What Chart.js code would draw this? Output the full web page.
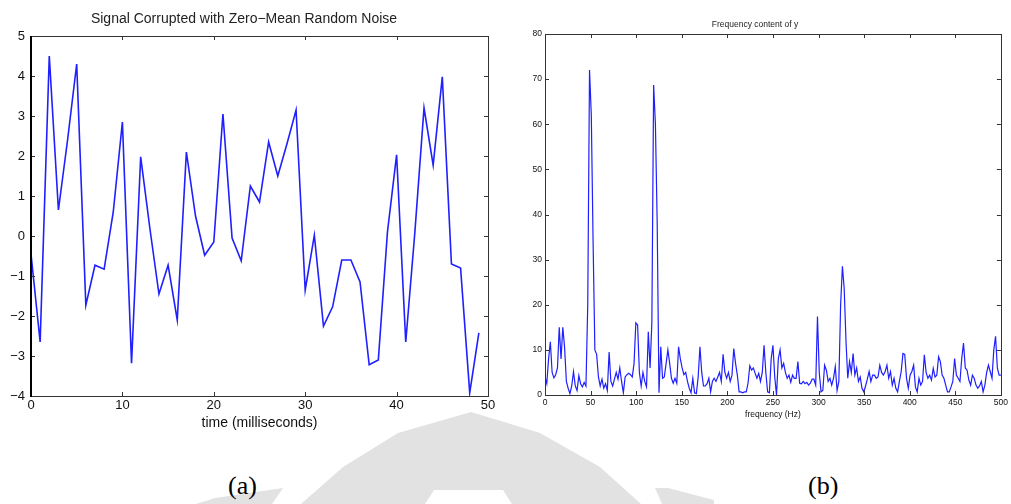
<!DOCTYPE html>
<html>
<head>
<meta charset="utf-8">
<script src="https://cdn.jsdelivr.net/npm/chart.js@4.4.1/dist/chart.umd.min.js"></script>
<style>
  body { margin: 0; background: #fff; width: 1011px; height: 504px; overflow: hidden; position: relative; }
  canvas { position: absolute; top: 0; }
  #fondo { position: absolute; left: 0; top: 0; }
  #graficoSenal { left: 0; }
  #graficoFrec { left: 505px; }
  .etiqueta { position: absolute; top: 471px; font: 26px "Liberation Serif", "Times New Roman", serif; color: #000; line-height: 30px; }
</style>
</head>
<body>
<!-- marca de agua gris del fondo -->
<svg id="fondo" width="1011" height="504">
  <g fill="#e2e2e2">
    <polygon points="471,412 398,433 343,467 301,504 425,504 434,490 503,490 512,504 641,504 600,467 540,433"/>
    <polygon points="196,504 215,498 283,488 272,504"/>
    <polygon points="655,488 668,488 714,500 714,504 662,504"/>
  </g>
</svg>
<canvas id="graficoSenal" width="505" height="440"></canvas>
<canvas id="graficoFrec" width="506" height="440"></canvas>
<div class="etiqueta" style="left:228px">(a)</div>
<div class="etiqueta" style="left:808px">(b)</div>

<script>
// Datos (a): primeros 50 ms de la senal con ruido
const tiempo = [0, 1, 2, 3, 4, 5, 6, 7, 8, 9, 10, 11, 12, 13, 14, 15, 16, 17, 18, 19,
  20, 21, 22, 23, 24, 25, 26, 27, 28, 29, 30, 31, 32, 33, 34, 35, 36, 37, 38, 39,
  40, 41, 42, 43, 44, 45, 46, 47, 48, 49];
const senal = [-0.45, -2.65, 4.5, 0.65, 2.4, 4.3, -1.73, -0.73, -0.83, 0.6,
  2.85, -3.18, 1.98, 0.2, -1.45, -0.73, -2.1, 2.1, 0.5, -0.48,
  -0.15, 3.05, -0.05, -0.62, 1.25, 0.85, 2.35, 1.5, 2.3, 3.15,
  -1.35, 0.02, -2.25, -1.77, -0.6, -0.6, -1.15, -3.22, -3.1, 0.1,
  2.03, -2.65, 0.1, 3.2, 1.77, 3.98, -0.7, -0.8, -3.92, -2.42];
const ticksTiempo = [0, 10, 20, 30, 40, 50];
const ticksSenal = [-4, -3, -2, -1, 0, 1, 2, 3, 4, 5];

// Datos de la figura (b): espectro, fft de 512 puntos -> 257 bins de 0 a 500 Hz
const pasoFrec = 1000 / 512;
const potencia = [
  4, 2.5, 8, 11.8, 5, 3.8, 4.5, 6, 15, 8,
  15, 10.5, 3, 1.5, 0.3, 2, 5.2, 2, 1, 4.3,
  2.5, 1.8, 2.8, 2, 20, 72, 62, 34, 10, 9,
  4, 2, 3.5, 1.5, 2.5, 1, 9.5, 3, 2, 3.5,
  5, 3.5, 6, 3, 0.5, 4, 4.5, 4.8, 4.5, 4,
  7, 16, 15.5, 5, 2, 5, 3, 1.8, 14, 6,
  16, 68.7, 60, 38, 0.5, 10.7, 3.7, 4, 7, 10,
  7, 3.7, 2.6, 3.7, 2.6, 10.7, 8, 6, 4.5, 5,
  3, 1.5, 0.5, 3.7, 0.5, 0.3, 4, 10.7, 5, 2,
  2, 2.5, 3.7, 0.7, 3, 3.7, 3, 4, 5, 3,
  9, 5, 3.7, 5, 3, 4.4, 10.3, 7, 4.4, 0.7,
  0.7, 0.5, 0.7, 0.7, 2.6, 6.5, 5.5, 6, 4.8, 3.7,
  4.8, 3, 5, 11, 5, 0.7, 0.5, 8, 11, 4,
  0, 8, 10, 6, 7, 5, 3.7, 4.4, 2.8, 4.4,
  3.7, 3.7, 7.4, 2.6, 2.5, 3, 2.5, 2.8, 2.2, 2.6,
  3.5, 3.5, 2.2, 17.4, 5, 0.7, 1, 6.6, 5.5, 3,
  3.7, 2.2, 3.7, 6.3, 1, 3, 20, 28.5, 23.6, 12,
  3.7, 7.4, 5, 9.2, 4.4, 6, 3, 4, 1.5, 0.7,
  2, 3.5, 5.2, 3, 4.4, 4.4, 3.7, 4, 6.6, 5,
  4.4, 5.2, 6.6, 3.7, 5.2, 2.2, 3.7, 1.5, 0.7, 3,
  5.2, 9.2, 9, 3.7, 1.5, 4.4, 5.2, 6.6, 1.8, 0.7,
  3.7, 2.2, 3, 8.9, 5, 3.7, 4.4, 3.3, 5.9, 4,
  4.4, 8.5, 7.4, 4.4, 3.7, 2.2, 0.7, 0.7, 1.8, 3,
  8.1, 4.4, 3.7, 3, 8.1, 11.5, 6, 5.5, 3.3, 2.2,
  4.4, 3.7, 2.2, 1.5, 2, 3, 0.7, 2.2, 5, 6.6,
  5.2, 3.7, 10, 13, 6, 4.4, 4.4
];
const ticksFrec = [0, 50, 100, 150, 200, 250, 300, 350, 400, 450, 500];
const ticksPotencia = [0, 10, 20, 30, 40, 50, 60, 70, 80];

const fuente = '"Liberation Sans", Arial, Helvetica, sans-serif';
const azul = '#1f1fff';

// Caja estilo matlab: borde en los 4 lados y ticks hacia adentro
const cajaMatlab = {
  id: 'cajaMatlab',
  afterDatasetsDraw(chart, args, opts) {
    const { ctx, chartArea: a, scales } = chart;
    const largo = opts.largo || 4;
    ctx.save();
    ctx.strokeStyle = opts.color || '#222';
    ctx.lineWidth = 1;
    ctx.beginPath();
    scales.x.ticks.forEach(t => {
      const px = Math.round(scales.x.getPixelForValue(t.value)) + 0.5;
      ctx.moveTo(px, a.bottom); ctx.lineTo(px, a.bottom - largo);
      ctx.moveTo(px, a.top); ctx.lineTo(px, a.top + largo);
    });
    scales.y.ticks.forEach(t => {
      const py = Math.round(scales.y.getPixelForValue(t.value)) + 0.5;
      ctx.moveTo(a.left, py); ctx.lineTo(a.left + largo, py);
      ctx.moveTo(a.right, py); ctx.lineTo(a.right - largo, py);
    });
    ctx.stroke();
    ctx.strokeRect(Math.round(a.left) + 0.5, Math.round(a.top) + 0.5,
      Math.round(a.right - a.left), Math.round(a.bottom - a.top));
    if (opts.bordeIzq) {
      ctx.lineWidth = opts.bordeIzq;
      ctx.strokeStyle = '#000';
      ctx.beginPath();
      ctx.moveTo(Math.round(a.left), a.top);
      ctx.lineTo(Math.round(a.left), a.bottom + 1);
      ctx.stroke();
    }
    ctx.restore();
  }
};

const menos = v => String(v).replace('-', '\u2212');

// Grafico (a): senal en el tiempo
new Chart(document.getElementById('graficoSenal').getContext('2d'), {
  type: 'line',
  data: {
    datasets: [{
      data: tiempo.map((t, i) => ({ x: t, y: senal[i] })),
      borderColor: azul,
      borderWidth: 1.6,
      pointRadius: 0,
      tension: 0
    }]
  },
  options: {
    responsive: false,
    animation: false,
    devicePixelRatio: 1,
    events: [],
    layout: { padding: { left: 0, right: 17, top: 0, bottom: 8 } },
    plugins: {
      legend: { display: false },
      tooltip: { enabled: false },
      title: {
        display: true,
        text: 'Signal Corrupted with Zero\u2212Mean Random Noise',
        color: '#222',
        font: { family: fuente, size: 14, weight: 'normal', lineHeight: 1.2 },
        padding: { top: 10.4, bottom: 8.8 }
      },
      cajaMatlab: { largo: 4, color: '#333', bordeIzq: 2 }
    },
    scales: {
      x: {
        type: 'linear', min: 0, max: 50,
        afterBuildTicks: s => { s.ticks = ticksTiempo.map(v => ({ value: v })); },
        afterFit: s => { s.height = 36; },
        ticks: { color: '#111', font: { family: fuente, size: 13 }, padding: 2, maxRotation: 0 },
        grid: { display: false, drawTicks: false },
        border: { display: false },
        title: { display: true, text: 'time (milliseconds)', color: '#111', font: { family: fuente, size: 14 }, padding: { top: 0, bottom: 0 } }
      },
      y: {
        type: 'linear', min: -4, max: 5,
        afterBuildTicks: s => { s.ticks = ticksSenal.map(v => ({ value: v })); },
        afterFit: s => { s.width = 31; },
        ticks: { color: '#111', font: { family: fuente, size: 13 }, padding: 6, callback: menos },
        grid: { display: false, drawTicks: false },
        border: { display: false }
      }
    }
  },
  plugins: [cajaMatlab]
});

// Grafico (b): contenido en frecuencia
new Chart(document.getElementById('graficoFrec').getContext('2d'), {
  type: 'line',
  data: {
    datasets: [{
      data: potencia.map((p, k) => ({ x: k * pasoFrec, y: p })),
      borderColor: azul,
      borderWidth: 1.2,
      pointRadius: 0,
      tension: 0
    }]
  },
  options: {
    responsive: false,
    animation: false,
    devicePixelRatio: 1,
    events: [],
    layout: { padding: { left: 0, right: 6, top: 0, bottom: 20 } },
    plugins: {
      legend: { display: false },
      tooltip: { enabled: false },
      title: {
        display: true,
        text: 'Frequency content of y',
        color: '#222',
        font: { family: fuente, size: 8.5, weight: 'normal', lineHeight: 1.2 },
        padding: { top: 19.5, bottom: 4.3 }
      },
      cajaMatlab: { largo: 4, color: '#333' }
    },
    scales: {
      x: {
        type: 'linear', min: 0, max: 500,
        afterBuildTicks: s => { s.ticks = ticksFrec.map(v => ({ value: v })); },
        afterFit: s => { s.height = 25; },
        ticks: { color: '#111', font: { family: fuente, size: 8.5 }, padding: 3, maxRotation: 0 },
        grid: { display: false, drawTicks: false },
        border: { display: false },
        title: { display: true, text: 'frequency (Hz)', color: '#111', font: { family: fuente, size: 8.5 }, padding: { top: 0, bottom: 0 } }
      },
      y: {
        type: 'linear', min: 0, max: 80,
        afterBuildTicks: s => { s.ticks = ticksPotencia.map(v => ({ value: v })); },
        afterFit: s => { s.width = 40; },
        ticks: { color: '#111', font: { family: fuente, size: 8.5 }, padding: 3 },
        grid: { display: false, drawTicks: false },
        border: { display: false }
      }
    }
  },
  plugins: [cajaMatlab]
});
</script>
</body>
</html>
